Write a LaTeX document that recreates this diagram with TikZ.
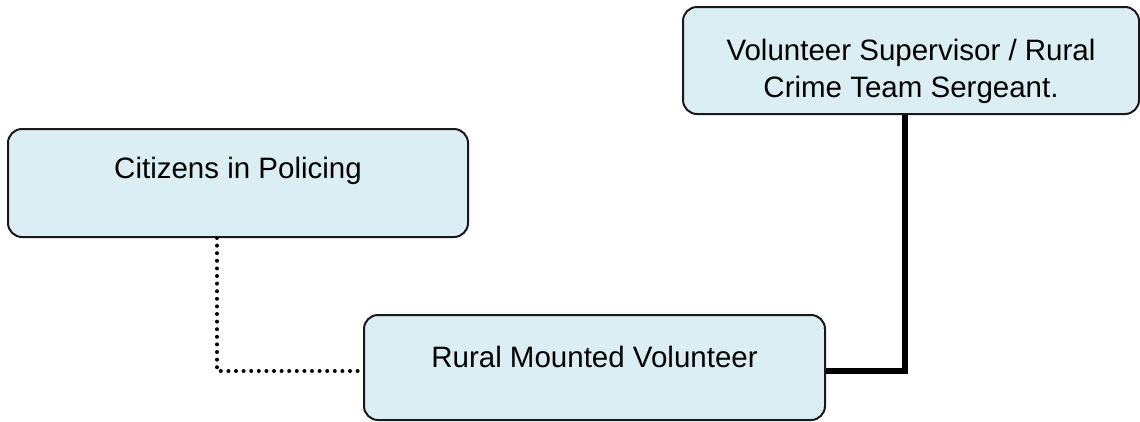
\documentclass[tikz,border=0pt]{standalone}
\usepackage{fontspec}
\setmainfont{Liberation Sans}
\definecolor{boxblue}{HTML}{DBEEF3}
\tikzset{>=stealth,
  orgbox/.style={draw=black!90, line width=2pt, fill=boxblue, rounded corners=14pt,
    inner sep=0pt, align=center, font=\fontsize{29.5}{37}\selectfont},
  dotline/.style={line width=4pt, line cap=round, dash pattern=on 0pt off 7.6pt},
  solidline/.style={line width=5.5pt}}

\begin{document}
\begin{tikzpicture}[x=1pt,y=-1pt]
    \useasboundingbox (0,0) rectangle (1140,421);
    \node[orgbox, minimum width=456pt, text height=90pt, text depth=17pt] (sup) at (911,60.5)
        {Volunteer Supervisor / Rural\\Crime Team Sergeant.};
    \node[orgbox, minimum width=460pt, text height=49pt, text depth=59pt] (cip) at (238,183)
        {Citizens in Policing};
    \node[orgbox, minimum width=461pt, text height=52pt, text depth=53pt] (rmv) at (594.5,367.5)
        {Rural Mounted Volunteer};
    \draw[dotline] ([xshift=-21pt]cip.south) |- ([yshift=-3.5pt]rmv.west);
    \draw[solidline] ([yshift=-3.5pt]rmv.east) -| ([xshift=-6pt]sup.south);
\end{tikzpicture}
\end{document}
